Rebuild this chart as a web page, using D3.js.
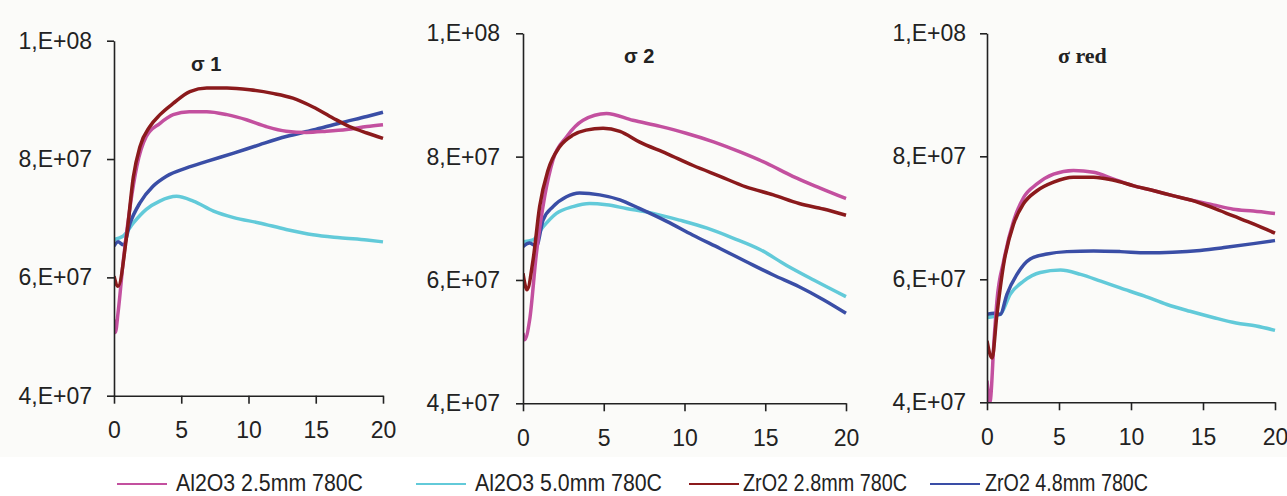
<!DOCTYPE html>
<html>
<head>
<meta charset="utf-8">
<script src="https://cdn.jsdelivr.net/npm/d3@7"></script>
<style>
  body { margin: 0; background: #fff; }
  svg { display: block; }
  text { font-family: Arial, "Liberation Sans", sans-serif; fill: #222; }
</style>
</head>
<body>
<div id="chart"></div>
<script>
// Series names + colours (legend order)
const seriesNames = ["Al2O3 2.5mm 780C", "Al2O3 5.0mm 780C", "ZrO2 2.8mm 780C", "ZrO2 4.8mm 780C"];
const seriesColors = ["#c3509f", "#62cad9", "#8b1a1c", "#3a4ea6"];

const panelTitles = ["\u03c3 1", "\u03c3 2", "\u03c3 red"];
const xTicks = [0, 5, 10, 15, 20];
const yTicks = [4e7, 6e7, 8e7, 1e8];
const yTickLabels = ["4,E+07", "6,E+07", "8,E+07", "1,E+08"];

// values, [x, value in 1e7]
// panel 1 (sigma 1)
const s1_al25 = [[0,5.29],[0.1,5.07],[0.3,5.4],[0.7,6.3],[1.2,7.2],[1.7,7.88],[2.4,8.38],[3.4,8.6],[4.4,8.75],[5.6,8.8],[6.9,8.8],[8.4,8.75],[9.9,8.66],[11.3,8.55],[12.8,8.47],[14.3,8.45],[15.8,8.47],[17.3,8.5],[18.8,8.55],[20,8.58]];
const s1_al50 = [[0,6.64],[0.7,6.7],[1.44,6.92],[2.4,7.15],[3.4,7.29],[4.65,7.37],[5.9,7.29],[7.4,7.12],[8.9,7.01],[10.8,6.92],[12.8,6.81],[14.8,6.72],[16.8,6.67],[18.8,6.63],[20,6.6]];
const s1_zr28 = [[0,6.02],[0.3,5.85],[0.94,6.7],[1.44,7.7],[1.93,8.21],[2.67,8.55],[3.42,8.75],[4.4,8.94],[5.64,9.14],[6.9,9.2],[8.4,9.2],[10.1,9.17],[11.8,9.11],[13.3,9.03],[14.8,8.88],[16.3,8.69],[17.5,8.55],[18.8,8.44],[20,8.35]];
const s1_zr48 = [[0,6.53],[0.3,6.6],[0.7,6.55],[1.2,6.92],[1.93,7.26],[2.9,7.54],[3.9,7.71],[5.4,7.85],[6.9,7.96],[8.9,8.1],[10.8,8.24],[12.8,8.38],[14.8,8.49],[16.8,8.61],[18.8,8.72],[20,8.79]];

// panel 2 (sigma 2)
const s2_al25 = [[0,5.14],[0.1,5.03],[0.41,5.35],[0.83,6.43],[1.34,7.35],[1.86,7.95],[2.69,8.32],[3.72,8.59],[5.17,8.7],[6.8,8.59],[8.5,8.49],[10.1,8.38],[11.8,8.24],[13.4,8.08],[15.1,7.89],[16.7,7.68],[18.4,7.49],[20,7.32]];
const s2_al50 = [[0,6.62],[0.62,6.65],[1.24,6.86],[2.07,7.08],[3.1,7.19],[4.13,7.24],[5.17,7.22],[6.4,7.16],[8.06,7.08],[9.7,6.97],[11.4,6.84],[13,6.68],[14.7,6.49],[16.3,6.24],[18,6.0],[20,5.73]];
const s2_zr28 = [[0,6.11],[0.25,5.84],[0.62,6.32],[1.03,7.19],[1.55,7.78],[2.27,8.16],[3.1,8.35],[3.9,8.43],[4.96,8.46],[6,8.41],[7.2,8.24],[8.9,8.05],[10.5,7.86],[12.2,7.68],[13.8,7.51],[15.5,7.38],[17.1,7.24],[18.6,7.15],[20,7.05]];
const s2_zr48 = [[0,6.54],[0.4,6.6],[0.83,6.55],[1.24,6.97],[1.86,7.19],[2.69,7.35],[3.5,7.41],[4.75,7.38],[6,7.3],[7.2,7.16],[8.9,6.95],[10.5,6.73],[12.2,6.51],[13.8,6.3],[15.5,6.08],[17.1,5.89],[18.6,5.68],[20,5.46]];

// panel 3 (sigma red)
const s3_al25 = [[0,4.35],[0.2,4.0],[0.5,5.05],[0.69,5.65],[1.16,6.3],[1.85,6.95],[2.54,7.33],[3.47,7.55],[4.62,7.71],[6,7.77],[7.4,7.74],[8.8,7.63],[10.2,7.52],[11.6,7.44],[12.9,7.36],[14.3,7.28],[15.7,7.21],[17.1,7.14],[18.5,7.11],[20,7.07]];
const s3_al50 = [[0,5.38],[0.92,5.43],[1.62,5.76],[2.54,5.97],[3.7,6.11],[5.1,6.15],[6.5,6.08],[7.9,5.97],[9.25,5.86],[10.9,5.73],[12.5,5.59],[14.1,5.48],[15.7,5.38],[17.3,5.29],[18.7,5.24],[20,5.17]];
const s3_zr28 = [[0,5.0],[0.35,4.72],[0.69,5.43],[1.16,6.25],[1.85,6.9],[2.54,7.23],[3.47,7.44],[4.62,7.58],[6,7.66],[7.4,7.66],[8.8,7.61],[10.2,7.52],[11.6,7.44],[12.9,7.36],[14.3,7.28],[15.7,7.16],[17.1,7.03],[18.5,6.9],[20,6.75]];
const s3_zr48 = [[0,5.43],[0.5,5.45],[0.92,5.43],[1.39,5.76],[2.08,6.08],[3,6.33],[4.16,6.41],[5.55,6.45],[7.4,6.46],[9.25,6.45],[11.1,6.43],[12.9,6.44],[14.8,6.47],[16.6,6.52],[18.5,6.58],[20,6.63]];

const panelSeries = [
  [s1_al25, s1_al50, s1_zr28, s1_zr48],
  [s2_al25, s2_al50, s2_zr28, s2_zr48],
  [s3_al25, s3_al50, s3_zr28, s3_zr48]
];

// panel geometry
const panels = [
  { x0: 114, x1: 383, yTop: 40.7, yBot: 395.7, pad: 15, titleX: 191, titleY: 71, serif: false },
  { x0: 523, x1: 846, yTop: 33.3, yBot: 403.3, pad: 16, titleX: 624, titleY: 63, serif: false },
  { x0: 987, x1: 1275, yTop: 33.3, yBot: 402.3, pad: 14, titleX: 1058, titleY: 63, serif: true }
];

const W = 1287, H = 496;
const svg = d3.select("#chart").append("svg")
  .attr("width", W).attr("height", H);

svg.append("rect").attr("width", W).attr("height", 457).attr("fill", "#fbfbf9");

panels.forEach((p, pi) => {
  const x = d3.scaleLinear().domain([0, 20]).range([p.x0, p.x1]);
  const y = d3.scaleLinear().domain([4e7, 1e8]).range([p.yBot, p.yTop]);

  const clipId = "clip" + pi;
  svg.append("clipPath").attr("id", clipId)
    .append("rect")
    .attr("x", p.x0).attr("y", p.yTop - 5)
    .attr("width", p.x1 - p.x0 + 4).attr("height", p.yBot - p.yTop + 5);

  const line = d3.line()
    .x(d => x(d[0]))
    .y(d => y(d[1] * 1e7))
    .curve(d3.curveMonotoneX);

  const g = svg.append("g").attr("clip-path", `url(#${clipId})`);
  // draw in the picture's stacking order: cyan, blue, magenta, dark red
  [1, 3, 0, 2].forEach(si => {
    g.append("path")
      .datum(panelSeries[pi][si])
      .attr("fill", "none")
      .attr("stroke", seriesColors[si])
      .attr("stroke-width", 3.5)
      .attr("stroke-linejoin", "round")
      .attr("d", line);
  });

  const yAxis = svg.append("g")
    .attr("transform", `translate(${p.x0},0)`)
    .call(d3.axisLeft(y).tickValues(yTicks)
      .tickFormat((d, i) => yTickLabels[i])
      .tickSize(7).tickSizeOuter(0).tickPadding(p.pad));

  const xAxis = svg.append("g")
    .attr("transform", `translate(0,${p.yBot})`)
    .call(d3.axisBottom(x).tickValues(xTicks)
      .tickSize(8).tickSizeOuter(0).tickPadding(18));

  [yAxis, xAxis].forEach(a => {
    a.select(".domain").attr("stroke", "#222").attr("stroke-width", 1.6);
    a.selectAll(".tick line").attr("stroke", "#222").attr("stroke-width", 1.6);
    a.selectAll("text").style("font-size", "23px").attr("fill", "#222")
      .style("font-family", "Arial, 'Liberation Sans', sans-serif");
  });

  svg.append("text")
    .attr("x", p.titleX).attr("y", p.titleY)
    .style("font-family", p.serif ? "'Liberation Serif', 'Times New Roman', serif" : "Arial, 'Liberation Sans', sans-serif")
    .style("font-size", p.serif ? "22px" : "20px")
    .style("font-weight", "bold")
    .text(panelTitles[pi]);
});

// Legend
const legendPos = [
  { lx: 117, tx: 176, tw: 187 },
  { lx: 416, tx: 475, tw: 187 },
  { lx: 689, tx: 743, tw: 164 },
  { lx: 930, tx: 985, tw: 163 }
];
seriesNames.forEach((name, i) => {
  const lp = legendPos[i];
  svg.append("line")
    .attr("x1", lp.lx).attr("x2", lp.lx + 50)
    .attr("y1", 484).attr("y2", 484)
    .attr("stroke", seriesColors[i]).attr("stroke-width", 2);
  svg.append("text")
    .attr("x", lp.tx).attr("y", 491)
    .attr("textLength", lp.tw)
    .attr("lengthAdjust", "spacingAndGlyphs")
    .style("font-size", "24px")
    .text(name);
});
</script>
</body>
</html>
